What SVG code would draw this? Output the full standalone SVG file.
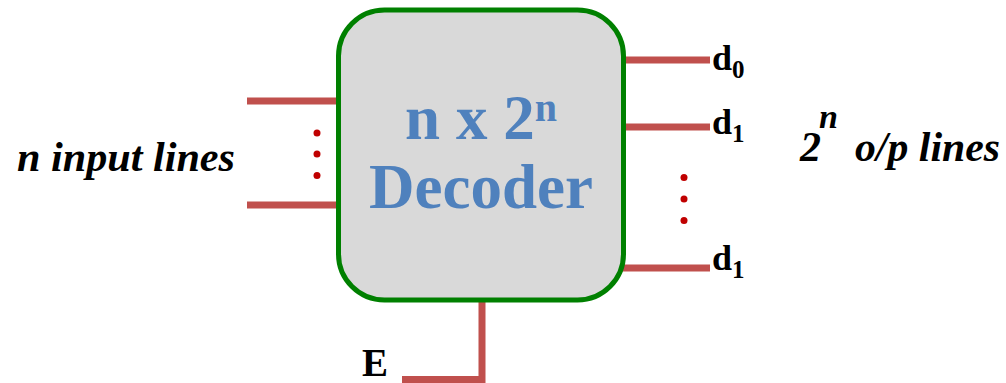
<svg xmlns="http://www.w3.org/2000/svg" width="1006" height="383" viewBox="0 0 1006 383">
<style>
.wire{stroke:#C0504D;stroke-width:7;fill:none}
.dot{fill:#C00000}
.lbl{font-family:"Liberation Serif","Times New Roman",serif;font-weight:bold;fill:#000}
.it{font-style:italic}
.title{font-family:"Liberation Serif","Times New Roman",serif;font-weight:bold;fill:#4F81BD}
</style>
<rect width="1006" height="383" fill="#fff"/>
<g id="connectors">
<line class="wire" x1="247" y1="101" x2="336" y2="101"/>
<line class="wire" x1="247" y1="205" x2="336" y2="205"/>
<line class="wire" x1="621" y1="60" x2="710" y2="60"/>
<line class="wire" x1="621" y1="127" x2="710" y2="127"/>
<line class="wire" x1="621" y1="268" x2="710" y2="268"/>
<polyline class="wire" points="482,298 482,379.5 402,379.5"/>
</g>
<g id="decoder">
<rect x="338.5" y="10" width="285" height="290" rx="46" ry="46" fill="#D9D9D9" stroke="#008000" stroke-width="5"/>
<text class="title" x="481" y="139" font-size="63" text-anchor="middle">n x 2<tspan font-size="40" dy="-18">n</tspan></text>
<text class="title" x="481" y="208" font-size="63" text-anchor="middle">Decoder</text>
</g>
<g id="input-dots">
<circle class="dot" cx="317" cy="133" r="3.5"/>
<circle class="dot" cx="317" cy="154" r="3.5"/>
<circle class="dot" cx="317" cy="175.5" r="3.5"/>
</g>
<g id="output-dots">
<circle class="dot" cx="684" cy="177.5" r="3.5"/>
<circle class="dot" cx="684" cy="199" r="3.5"/>
<circle class="dot" cx="684" cy="220.5" r="3.5"/>
</g>
<g id="input-label">
<text class="lbl it" x="17" y="171" font-size="42" textLength="218" lengthAdjust="spacingAndGlyphs">n input lines</text>
</g>
<g id="output-label">
<text class="lbl it" x="800" y="161" font-size="42">2</text>
<text class="lbl it" x="819" y="127.5" font-size="34">n</text>
<text class="lbl it" x="855" y="161" font-size="42" textLength="145" lengthAdjust="spacingAndGlyphs">o/p lines</text>
</g>
<g id="d0">
<text class="lbl" x="712" y="70" font-size="36">d<tspan font-size="25" dy="8">0</tspan></text>
</g>
<g id="d1a">
<text class="lbl" x="712" y="134" font-size="36">d<tspan font-size="25" dy="8">1</tspan></text>
</g>
<g id="d1b">
<text class="lbl" x="712" y="270" font-size="36">d<tspan font-size="25" dy="8">1</tspan></text>
</g>
<g id="enable">
<text class="lbl" x="362" y="376" font-size="39">E</text>
</g>
</svg>
